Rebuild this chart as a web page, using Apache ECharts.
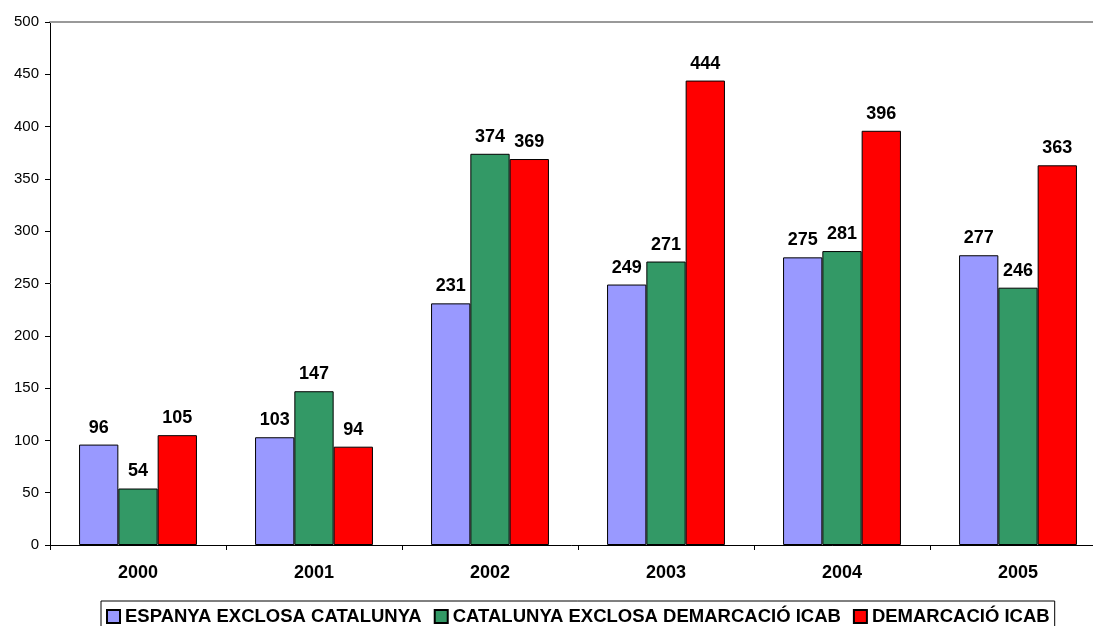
<!DOCTYPE html>
<html>
<head>
<meta charset="utf-8">
<script src="https://cdn.jsdelivr.net/npm/echarts@6/dist/echarts.min.js"></script>
<style>
html,body{margin:0;padding:0;background:#fff;}
#chart{width:1093px;height:626px;}
</style>
</head>
<body>
<div id="chart"></div>
<script>
const categories = ['2000','2001','2002','2003','2004','2005'];
const seriesNames = ['ESPANYA EXCLOSA CATALUNYA','CATALUNYA EXCLOSA DEMARCACIÓ ICAB','DEMARCACIÓ ICAB'];
const espanya = [96,103,231,249,275,277];
const catalunya = [54,147,374,271,281,246];
const icab = [105,94,369,444,396,363];
const colors = ['#9999FF','#339966','#FF0000'];
const yTicks = {min:0, max:500, interval:50};

const chart = echarts.init(document.getElementById('chart'), null, {renderer:'canvas'});
const font = 'Arial, "Liberation Sans", sans-serif';
function mk(name, data, color){
  return {
    name, type:'bar', data,
    barWidth: 39.3,
    barGap: '0%',
    itemStyle:{color, borderColor:'#000', borderWidth:1},
    label:{show:true, position:'top', distance:8, color:'#000', fontWeight:'bold', fontSize:18, fontFamily:font},
    emphasis:{disabled:true}
  };
}
chart.setOption({
  animation:false,
  textStyle:{fontFamily:font},
  grid:{left:50, top:22, width:1056, height:523, containLabel:false, outerBoundsMode:'none'},
  legend:{
    left:101, top:601,
    data:seriesNames,
    itemWidth:13, itemHeight:13, itemGap:12,
    padding:[6,5,6,5],
    borderColor:'#000', borderWidth:1,
    textStyle:{color:'#000', fontWeight:'bold', fontSize:18.5, fontFamily:font},
    icon:'rect'
  },
  xAxis:[{
    type:'category', data:categories,
    axisLine:{lineStyle:{color:'#000', width:1}},
    axisTick:{show:true, length:5, lineStyle:{color:'#000'}},
    axisLabel:{color:'#000', fontWeight:'bold', fontSize:18, margin:19, fontFamily:font},
    splitLine:{show:false}
  },{
    type:'category', data:categories, position:'top',
    axisLine:{show:true, lineStyle:{color:'#999', width:2}},
    axisTick:{show:false}, axisLabel:{show:false}
  }],
  yAxis:{
    type:'value', min:yTicks.min, max:yTicks.max, interval:yTicks.interval,
    axisLine:{show:true, lineStyle:{color:'#000', width:1}},
    axisTick:{show:true, length:5, lineStyle:{color:'#000'}},
    axisLabel:{color:'#000', fontSize:15, margin:11, fontFamily:font},
    splitLine:{show:false}
  },
  series:[mk(seriesNames[0], espanya, colors[0]), mk(seriesNames[1], catalunya, colors[1]), mk(seriesNames[2], icab, colors[2])]
});
</script>
</body>
</html>
